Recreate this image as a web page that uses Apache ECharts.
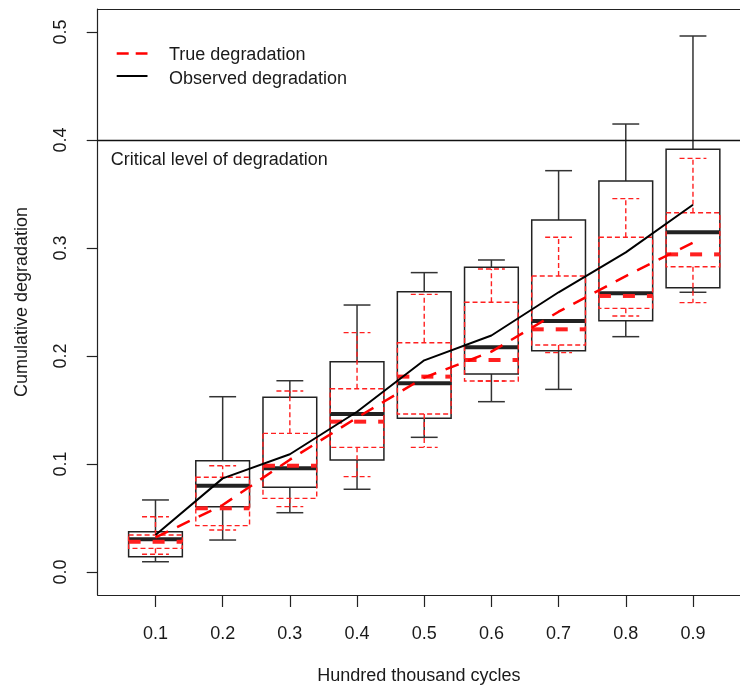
<!DOCTYPE html>
<html>
<head>
<meta charset="utf-8">
<script src="https://cdn.jsdelivr.net/npm/echarts@6/dist/echarts.min.js"></script>
<style>
  html, body { margin: 0; padding: 0; background: #fff; }
  #chart { width: 740px; height: 685px; }
</style>
</head>
<body>
<div id="chart"></div>
<script>
// ---- Data ----
const xLabels = ['0.1', '0.2', '0.3', '0.4', '0.5', '0.6', '0.7', '0.8', '0.9'];
const xTickValues = [1, 2, 3, 4, 5, 6, 7, 8, 9];
const yTickValues = [0, 0.1, 0.2, 0.3, 0.4, 0.5];

// Observed degradation boxplots (black)
const obsLow  = [0.0095, 0.0296, 0.0549, 0.0766, 0.1247, 0.1577, 0.1691, 0.2179, 0.2590];
const obsQ1   = [0.0142, 0.0605, 0.0784, 0.1037, 0.1423, 0.1833, 0.2049, 0.2327, 0.2633];
const obsMed  = [0.0303, 0.0799, 0.0960, 0.1463, 0.1747, 0.2080, 0.2324, 0.2580, 0.3145];
const obsQ3   = [0.0373, 0.1031, 0.1617, 0.1947, 0.2596, 0.2821, 0.3259, 0.3620, 0.3914];
const obsHigh = [0.0667, 0.1623, 0.1771, 0.2472, 0.2772, 0.2889, 0.3716, 0.4148, 0.4963];
const obsOutliers = [[1, 0.0905]];

// True degradation boxplots (red dashed)
const trueLow  = [0.0164, 0.0389, 0.0605, 0.0883, 0.1154, 0.1769, 0.2031, 0.2370, 0.2494];
const trueQ1   = [0.0219, 0.0429, 0.0682, 0.1154, 0.1463, 0.1769, 0.2102, 0.2441, 0.2827];
const trueMed  = [0.0280, 0.0590, 0.0984, 0.1392, 0.1809, 0.1963, 0.2247, 0.2556, 0.2941];
const trueQ3   = [0.0343, 0.0877, 0.1284, 0.1697, 0.2123, 0.2497, 0.2741, 0.3099, 0.3327];
const trueHigh = [0.0512, 0.0984, 0.1676, 0.2216, 0.2571, 0.2806, 0.3099, 0.3457, 0.3830];

// Mean degradation paths
const observedMean = [0.0343, 0.0867, 0.1090, 0.1484, 0.1960, 0.2190, 0.2590, 0.2960, 0.3400];
const trueMean     = [0.0320, 0.0620, 0.1040, 0.1430, 0.1800, 0.2040, 0.2410, 0.2740, 0.3050];

const criticalLevel = 0.4;
const legendNames = ['True degradation', 'Observed degradation'];

// ---- Build series data ----
const obsBoxData = xTickValues.map((x, i) => [x, obsLow[i], obsQ1[i], obsMed[i], obsQ3[i], obsHigh[i]]);
const trueBoxData = xTickValues.map((x, i) => [x, trueLow[i], trueQ1[i], trueMed[i], trueQ3[i], trueHigh[i]]);
const obsLineData = xTickValues.map((x, i) => [x, observedMean[i]]);
const trueLineData = xTickValues.map((x, i) => [x, trueMean[i]]);

const FONT = '"Liberation Sans", Arial, Helvetica, sans-serif';
const TXT = '#1a1a1a';
const X_MIN = 0.14, X_MAX = 9.70;
const Y_MIN = -0.0213, Y_MAX = 0.5213;

function makeBoxRenderer(color, dash, lw, medW, medDash, whiskColor) {
  return function (params, api) {
    const x = api.value(0);
    const lo = api.value(1), q1 = api.value(2), md = api.value(3), q3 = api.value(4), hi = api.value(5);
    const xl = api.coord([x - 0.4, 0])[0];
    const xr = api.coord([x + 0.4, 0])[0];
    const cx = api.coord([x, 0])[0];
    const cl = api.coord([x - 0.2, 0])[0];
    const cr = api.coord([x + 0.2, 0])[0];
    const Y = v => api.coord([x, v])[1];
    const st = { stroke: color, lineWidth: lw, lineDash: dash, fill: 'none' };
    const wst = { stroke: whiskColor, lineWidth: lw, lineDash: dash, fill: 'none' };
    const line = (x1, y1, x2, y2, s) => ({ type: 'line', shape: { x1, y1, x2, y2 }, style: s });
    return {
      type: 'group',
      children: [
        line(cx, Y(q3), cx, Y(hi), wst),
        line(cx, Y(q1), cx, Y(lo), wst),
        line(cl, Y(hi), cr, Y(hi), wst),
        line(cl, Y(lo), cr, Y(lo), wst),
        { type: 'rect', shape: { x: xl, y: Y(q3), width: xr - xl, height: Y(q1) - Y(q3) }, style: st },
        line(xl, Y(md), xr, Y(md), { stroke: color, lineWidth: medW, lineDash: medDash, fill: 'none' })
      ]
    };
  };
}

const chart = echarts.init(document.getElementById('chart'), null, { renderer: 'canvas' });

const frameLine = { color: '#222', width: 1.2 };

const option = {
  backgroundColor: '#ffffff',
  animation: false,
  grid: { left: 97.7, top: 9, right: 0, bottom: 90, show: false, containLabel: false, outerBoundsMode: 'none' },
  xAxis: [
    {
      type: 'value', min: X_MIN, max: X_MAX, position: 'bottom',
      axisLine: { show: true, onZero: false, lineStyle: frameLine },
      splitLine: { show: false },
      axisTick: { show: true, customValues: xTickValues, length: 12, lineStyle: frameLine },
      axisLabel: {
        customValues: xTickValues, margin: 30,
        formatter: v => xLabels[Math.round(v) - 1],
        fontSize: 18, fontFamily: FONT, color: TXT
      },
      name: 'Hundred thousand cycles', nameLocation: 'middle', nameGap: 72,
      nameTextStyle: { fontSize: 18, fontFamily: FONT, color: TXT }
    },
    {
      type: 'value', min: X_MIN, max: X_MAX, position: 'top',
      axisLine: { show: true, onZero: false, lineStyle: frameLine },
      splitLine: { show: false }, axisTick: { show: false }, axisLabel: { show: false }
    }
  ],
  yAxis: {
    type: 'value', min: Y_MIN, max: Y_MAX,
    axisLine: { show: true, onZero: false, lineStyle: frameLine },
    splitLine: { show: false },
    axisTick: { show: true, customValues: yTickValues, length: 11, lineStyle: frameLine },
    axisLabel: {
      customValues: yTickValues, margin: 28, rotate: 90,
      formatter: v => v.toFixed(1),
      fontSize: 18, fontFamily: FONT, color: TXT
    },
    name: 'Cumulative degradation', nameLocation: 'middle', nameGap: 67, nameRotate: 90,
    nameTextStyle: { fontSize: 18, fontFamily: FONT, color: TXT }
  },
  graphic: [
    { type: 'text', left: 110.7, top: 151, silent: true,
      style: { text: 'Critical level of degradation', font: '18px ' + FONT, fill: TXT } },
    // legend
    { type: 'line', silent: true, shape: { x1: 116.7, y1: 53.5, x2: 147.5, y2: 53.5 },
      style: { stroke: '#ff0000', lineWidth: 2.5, lineDash: [12, 7] } },
    { type: 'line', silent: true, shape: { x1: 116.7, y1: 76, x2: 147.5, y2: 76 },
      style: { stroke: '#000', lineWidth: 2 } },
    { type: 'text', left: 169, top: 46, silent: true,
      style: { text: legendNames[0], font: '18px ' + FONT, fill: TXT } },
    { type: 'text', left: 169, top: 70, silent: true,
      style: { text: legendNames[1], font: '18px ' + FONT, fill: TXT } }
  ],
  series: [
    {
      type: 'custom', name: 'observedBoxes', data: obsBoxData,
      renderItem: makeBoxRenderer('#222', null, 1.5, 4, null, '#333'),
      encode: { x: 0, y: [1, 2, 3, 4, 5] }, z: 2, silent: true
    },
    {
      type: 'custom', name: 'trueBoxes', data: trueBoxData,
      renderItem: makeBoxRenderer('#ff2020', [5, 3], 1.4, 4, [12, 12], '#ff2020'),
      encode: { x: 0, y: [1, 2, 3, 4, 5] }, z: 3, silent: true
    },
    {
      type: 'scatter', name: 'outliers', data: obsOutliers,
      symbol: 'emptyCircle', symbolSize: 8,
      itemStyle: { color: '#fff', borderColor: '#222', borderWidth: 1.5 }, z: 3, silent: true
    },
    {
      type: 'line', name: legendNames[0], data: trueLineData,
      showSymbol: false, symbol: 'none',
      lineStyle: { color: '#ff0000', width: 2.5, type: [14, 10] },
      itemStyle: { color: '#ff0000' }, z: 4, silent: true
    },
    {
      type: 'line', name: legendNames[1], data: obsLineData,
      showSymbol: false, symbol: 'none',
      lineStyle: { color: '#000', width: 2 },
      itemStyle: { color: '#000' }, z: 5, silent: true,
      markLine: {
        silent: true, symbol: ['none', 'none'], label: { show: false },
        lineStyle: { color: '#111', width: 1.3, type: 'solid' },
        data: [{ yAxis: criticalLevel }]
      }
    }
  ]
};

chart.setOption(option);
</script>
</body>
</html>
